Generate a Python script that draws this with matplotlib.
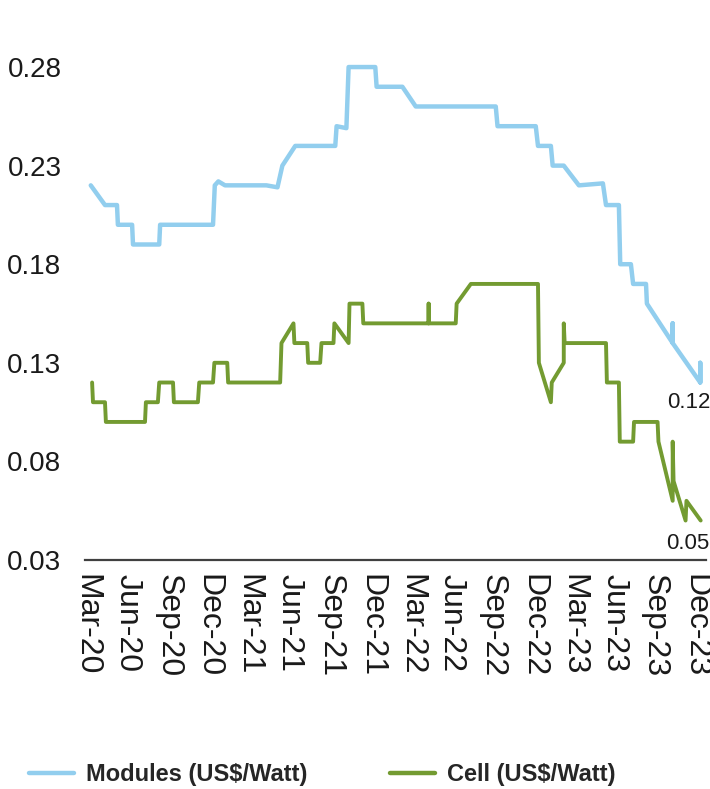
import matplotlib
matplotlib.use("Agg")
import matplotlib.pyplot as plt
import matplotlib.dates as mdates
import pandas as pd

# Weekly price points (US$/Watt), listed at the dates where the price changes
module_dates = ["2020-03-03", "2020-04-04", "2020-05-01", "2020-05-03", "2020-06-04",
                "2020-06-06", "2020-08-04", "2020-08-06", "2020-12-03", "2020-12-07",
                "2020-12-15", "2020-12-30", "2021-04-02", "2021-04-27", "2021-05-08",
                "2021-06-06", "2021-09-04", "2021-09-07", "2021-09-29", "2021-10-04",
                "2021-12-03", "2021-12-06", "2022-02-02", "2022-03-04", "2022-08-31",
                "2022-09-04", "2022-11-29", "2022-12-04", "2023-01-02", "2023-01-06",
                "2023-01-31", "2023-03-06", "2023-04-29", "2023-05-06", "2023-06-04",
                "2023-06-07", "2023-07-01", "2023-07-06", "2023-08-04", "2023-08-06",
                "2023-10-03", "2023-10-03", "2023-10-03", "2023-12-04", "2023-12-04",
                "2023-12-04"]
module_prices = [0.22, 0.21, 0.21, 0.20, 0.20,
                 0.19, 0.19, 0.20, 0.20, 0.22,
                 0.222, 0.22, 0.22, 0.219, 0.23,
                 0.24, 0.24, 0.25, 0.249, 0.28,
                 0.28, 0.27, 0.27, 0.26, 0.26,
                 0.25, 0.25, 0.24, 0.24, 0.23,
                 0.23, 0.22, 0.221, 0.21, 0.21,
                 0.18, 0.18, 0.17, 0.17, 0.16,
                 0.14, 0.15, 0.14, 0.12, 0.13,
                 0.12]

cell_dates = ["2020-03-06", "2020-03-08", "2020-04-04", "2020-04-06", "2020-07-03",
              "2020-07-05", "2020-08-01", "2020-08-04", "2020-09-04", "2020-09-06",
              "2020-10-30", "2020-11-02", "2020-12-03", "2020-12-06", "2021-01-04",
              "2021-01-06", "2021-05-03", "2021-05-06", "2021-06-02", "2021-06-04",
              "2021-07-03", "2021-07-05", "2021-08-01", "2021-08-04", "2021-08-31",
              "2021-09-02", "2021-10-04", "2021-10-06", "2021-11-04", "2021-11-06",
              "2022-04-02", "2022-04-02", "2022-04-02", "2022-06-02", "2022-06-04",
              "2022-07-06", "2022-12-04", "2022-12-06", "2023-01-02", "2023-01-04",
              "2023-01-31", "2023-01-31", "2023-02-02", "2023-05-06", "2023-05-08",
              "2023-06-04", "2023-06-06", "2023-07-06", "2023-07-08", "2023-08-30",
              "2023-09-01", "2023-10-03", "2023-10-03", "2023-10-05", "2023-11-01",
              "2023-11-03", "2023-12-05"]
cell_prices = [0.12, 0.11, 0.11, 0.10, 0.10,
               0.11, 0.11, 0.12, 0.12, 0.11,
               0.11, 0.12, 0.12, 0.13, 0.13,
               0.12, 0.12, 0.14, 0.15, 0.14,
               0.14, 0.13, 0.13, 0.14, 0.14,
               0.15, 0.14, 0.16, 0.16, 0.15,
               0.15, 0.16, 0.15, 0.15, 0.16,
               0.17, 0.17, 0.13, 0.11, 0.12,
               0.13, 0.15, 0.14, 0.14, 0.12,
               0.12, 0.09, 0.09, 0.10, 0.10,
               0.09, 0.06, 0.09, 0.07, 0.05,
               0.06, 0.05]

y_ticks = [0.03, 0.08, 0.13, 0.18, 0.23, 0.28]
series_labels = ["Modules (US$/Watt)", "Cell (US$/Watt)"]

blue = "#92CEEE"
green = "#739B31"
text_color = "#1A1A1A"

plt.rcParams["font.family"] = ["Liberation Sans", "DejaVu Sans"]

fig = plt.figure(figsize=(7.10, 7.89), dpi=100)
ax = fig.add_axes([0.1197, 0.2903, 0.8747, 0.6747])

md = pd.to_datetime(module_dates)
cd = pd.to_datetime(cell_dates)

line_kw = dict(solid_joinstyle="round", solid_capstyle="round")
ax.plot(md, module_prices, color=blue, lw=3.2, label=series_labels[0], **line_kw)
ax.plot(cd, cell_prices, color=green, lw=2.8, label=series_labels[1], **line_kw)

# End-of-series value labels
ax.annotate(f"{module_prices[-1]:.2f}", xy=(md[-1], module_prices[-1]),
            xytext=(-11, -20), textcoords="offset pixels",
            ha="center", va="center", fontsize=16, color=text_color)
ax.annotate(f"{cell_prices[-1]:.2f}", xy=(cd[-1], cell_prices[-1]),
            xytext=(-13, -23), textcoords="offset pixels",
            ha="center", va="center", fontsize=16, color=text_color)

ax.set_ylim(0.03, 0.30)
ax.set_xlim(pd.Timestamp("2020-02-19"), pd.Timestamp("2023-12-17"))
ax.set_yticks(y_ticks)
ax.set_yticklabels([f"{v:.2f}" for v in y_ticks])

ax.xaxis.set_major_locator(mdates.MonthLocator(bymonth=[3, 6, 9, 12], bymonthday=1))
ax.xaxis.set_major_formatter(mdates.DateFormatter("%b-%y"))

for s in ["top", "right", "left"]:
    ax.spines[s].set_visible(False)
ax.spines["bottom"].set_color("#404040")
ax.spines["bottom"].set_linewidth(1.6)

ax.tick_params(axis="y", length=0, pad=17, labelsize=20, labelcolor=text_color)
ax.tick_params(axis="x", length=0, pad=10, labelsize=23, labelcolor=text_color)
for lbl in ax.get_xticklabels():
    lbl.set_rotation(-90)
    lbl.set_rotation_mode("anchor")
    lbl.set_ha("left")
    lbl.set_va("center_baseline")

leg = fig.legend(loc="center", bbox_to_anchor=(0.454, 0.018), ncol=2, frameon=False,
                 handlelength=1.9, handletextpad=0.5, columnspacing=3.5,
                 prop={"weight": "bold", "size": 17})
for t in leg.get_texts():
    t.set_color("#262626")
for h in leg.get_lines():
    h.set_linewidth(3.2)

fig.savefig("out.png", dpi=100)
